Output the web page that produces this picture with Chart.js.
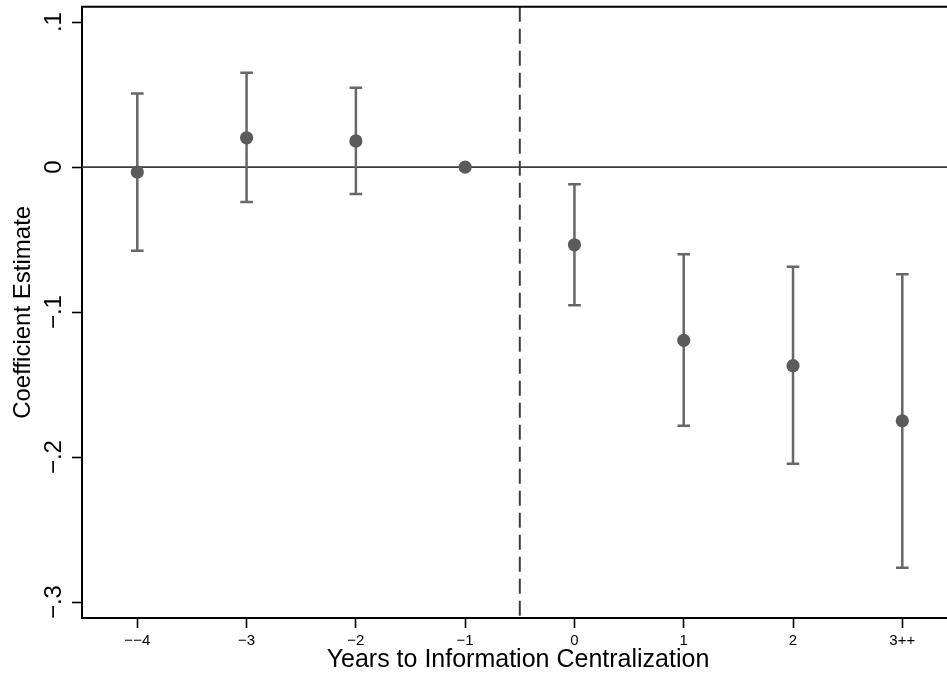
<!DOCTYPE html>
<html>
<head>
<meta charset="utf-8">
<script src="https://cdn.jsdelivr.net/npm/chart.js@4/dist/chart.umd.min.js"></script>
<style>
  html, body { margin: 0; padding: 0; background: #fff; }
  #wrap { width: 947px; height: 675px; position: relative; }
</style>
</head>
<body>
<div id="wrap"><canvas id="c" width="947" height="675"></canvas></div>
<script>
// ---- data ----
const categories = ['\u2212\u22124', '\u22123', '\u22122', '\u22121', '0', '1', '2', '3++'];
const estimates = [-0.0034, 0.0202, 0.0180, 0.0000, -0.0536, -0.1195, -0.1370, -0.1750];
const ciLow     = [-0.0578, -0.0241, -0.0186, null, -0.0953, -0.1784, -0.2047, -0.2763];
const ciHigh    = [ 0.0508,  0.0651,  0.0547, null, -0.0119, -0.0602, -0.0688, -0.0740];
const yTickValues = [-0.3, -0.2, -0.1, 0, 0.1];
const yTickLabels = ['\u2212.3', '\u2212.2', '\u2212.1', '0', '.1'];
const eventLineAt = 3.5;
const xTitle = 'Years to Information Centralization';
const yTitle = 'Coefficient Estimate';

const FONT = "'Liberation Sans', Arial, Helvetica, sans-serif";

const decor = {
  id: 'decor',
  beforeDatasetsDraw(chart) {
    const ctx = chart.ctx;
    const xs = chart.scales.x, ys = chart.scales.y;
    const a = chart.chartArea;
    ctx.save();
    // zero reference line
    const y0 = ys.getPixelForValue(0);
    ctx.strokeStyle = '#3c3c3c';
    ctx.lineWidth = 1.8;
    ctx.beginPath(); ctx.moveTo(a.left, y0); ctx.lineTo(a.right, y0); ctx.stroke();
    // event dashed line
    const xe = xs.getPixelForValue(eventLineAt);
    ctx.strokeStyle = '#3c3c3c';
    ctx.lineWidth = 2;
    ctx.setLineDash([15, 7]);
    ctx.beginPath(); ctx.moveTo(xe, a.top); ctx.lineTo(xe, a.bottom); ctx.stroke();
    ctx.setLineDash([]);
    // confidence intervals
    ctx.strokeStyle = '#676767';
    ctx.lineWidth = 2.5;
    const cap = 6.3;
    for (let i = 0; i < categories.length; i++) {
      if (ciLow[i] === null || ciHigh[i] === null) continue;
      const x = xs.getPixelForValue(i);
      const yl = ys.getPixelForValue(ciLow[i]);
      const yh = ys.getPixelForValue(ciHigh[i]);
      ctx.beginPath();
      ctx.moveTo(x, yl); ctx.lineTo(x, yh);
      ctx.moveTo(x - cap, yl); ctx.lineTo(x + cap, yl);
      ctx.moveTo(x - cap, yh); ctx.lineTo(x + cap, yh);
      ctx.stroke();
    }
    // top border
    ctx.strokeStyle = '#000';
    ctx.lineWidth = 2;
    ctx.beginPath(); ctx.moveTo(a.left - 1, a.top); ctx.lineTo(a.right, a.top); ctx.stroke();
    ctx.restore();
  },
  afterDraw(chart) {
    const ctx = chart.ctx;
    const ys = chart.scales.y;
    ctx.save();
    ctx.fillStyle = '#000';
    ctx.font = '24px ' + FONT;
    ctx.textAlign = 'center';
    ctx.textBaseline = 'alphabetic';
    for (let i = 0; i < yTickValues.length; i++) {
      const y = ys.getPixelForValue(yTickValues[i]);
      ctx.save();
      ctx.translate(61, y);
      ctx.rotate(-Math.PI / 2);
      ctx.fillText(yTickLabels[i], 0, 0);
      ctx.restore();
    }
    ctx.restore();
  }
};

new Chart(document.getElementById('c'), {
  type: 'scatter',
  data: {
    datasets: [{
      data: estimates.map((v, i) => ({ x: i, y: v })),
      backgroundColor: '#5b5b5b',
      borderWidth: 0,
      pointRadius: 6.6,
      pointHoverRadius: 6.6,
      clip: false
    }]
  },
  options: {
    responsive: false,
    animation: false,
    events: [],
    layout: { autoPadding: false, padding: { top: 6.7, right: 0, bottom: 0, left: 0 } },
    plugins: { legend: { display: false }, tooltip: { enabled: false } },
    scales: {
      x: {
        type: 'linear',
        min: -0.506,
        max: 7.409,
        afterBuildTicks: s => { s.ticks = categories.map((_, i) => ({ value: i })); },
        afterFit: s => { s.height = 57; s.paddingLeft = 0; s.paddingRight = 0; },
        ticks: {
          autoSkip: false,
          maxRotation: 0,
          minRotation: 0,
          padding: 4,
          color: '#000',
          font: { family: FONT, size: 15 },
          callback: v => categories[v] ?? ''
        },
        grid: { display: true, drawOnChartArea: false, drawTicks: true, tickLength: 10, tickColor: '#000', tickWidth: 1.6 },
        border: { display: true, color: '#000', width: 2 },
        title: { display: true, text: ' ' + xTitle, color: '#000', font: { family: FONT, size: 25 }, padding: { top: 1, bottom: 0 } }
      },
      y: {
        type: 'linear',
        min: -0.311,
        max: 0.1106,
        afterBuildTicks: s => { s.ticks = yTickValues.map(v => ({ value: v })); },
        afterFit: s => { s.width = 82; s.paddingTop = 0; s.paddingBottom = 0; },
        ticks: { display: false },
        grid: { display: true, drawOnChartArea: false, drawTicks: true, tickLength: 10, tickColor: '#000', tickWidth: 1.6 },
        border: { display: true, color: '#000', width: 2 },
        title: { display: true, text: yTitle, color: '#000', font: { family: FONT, size: 24 }, padding: { top: 9, bottom: 0 } }
      }
    }
  },
  plugins: [decor]
});
</script>
</body>
</html>
